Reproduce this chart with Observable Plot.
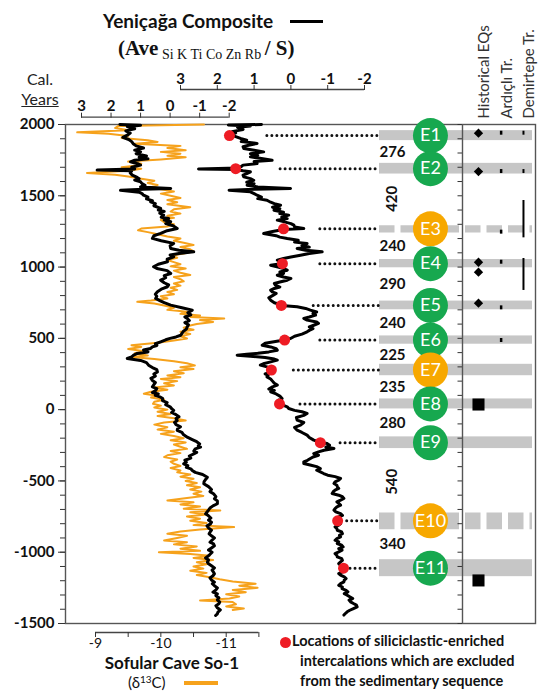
<!DOCTYPE html>
<html>
<head>
<meta charset="utf-8">
<script src="https://cdn.jsdelivr.net/npm/d3@7"></script>
<script src="https://cdn.jsdelivr.net/npm/@observablehq/plot@0.6"></script>
<style>
  html, body { margin: 0; padding: 0; background: #fff; }
  #chart { position: relative; width: 541px; height: 700px; overflow: hidden; font-family: Lato, "Open Sans", sans-serif; color: #111; }
  #chart > svg, #chart > figure { position: absolute; left: 0; top: 0; margin: 0; }
  .lbl { position: absolute; white-space: nowrap; line-height: 1; }
</style>
</head>
<body>
<div id="chart">
  <div class="lbl" style="left:103px;top:11px;font-weight:bold;font-size:19px;">Yeniçağa Composite</div>
  <div class="lbl" style="left:290px;top:20px;width:33px;height:3px;background:#000;"></div>
  <div class="lbl" style="left:118px;top:38px;font-family:'Liberation Serif',serif;"><b style="font-size:21px;">(Ave</b><span style="font-size:14px;position:relative;top:4px;"> Si K Ti Co Zn Rb </span><b style="font-size:21px;">/ S)</b></div>
  <div class="lbl" style="left:20px;top:71px;width:40px;text-align:center;font-size:16px;color:#222;">Cal.</div>
  <div class="lbl" style="left:20px;top:91px;width:40px;text-align:center;font-size:16px;color:#222;text-decoration:underline;">Years</div>
  <div class="lbl" style="left:72px;top:654px;width:200px;text-align:center;font-weight:bold;font-size:17px;">Sofular Cave So-1</div>
  <div class="lbl" style="left:128px;top:675px;font-size:15px;">(δ<span style="font-size:10px;position:relative;top:-5px;">13</span>C)</div>
  <div class="lbl" style="left:184px;top:681px;width:34px;height:3.5px;background:#f6a21c;"></div>
  <div class="lbl" style="left:279.5px;top:636.5px;width:11px;height:11px;border-radius:50%;background:#ee1c24;"></div>
  <div class="lbl" style="left:292px;top:634px;font-weight:bold;font-size:14.5px;">Locations of siliciclastic-enriched</div>
  <div class="lbl" style="left:300px;top:654px;font-weight:bold;font-size:14.5px;">intercalations which are excluded</div>
  <div class="lbl" style="left:300px;top:674px;font-weight:bold;font-size:14.5px;">from the sedimentary sequence</div>
</div>
<script>
// ---------------- DATA ----------------
// Sofular Cave So-1 δ13C (‰), by calendar year
const sofularYears = [2000,1990,1975,1960,1945,1935,1920,1905,1890,1878,1865,1850,1835,1820,1808,1795,1780,1770,1755,1740,1725,1710,1700,1690,1675,1660,1648,1635,1620,1605,1590,1575,1560,1545,1530,1515,1500,1485,1470,1455,1440,1420,1405,1390,1375,1360,1345,1330,1315,1300,1285,1270,1258,1245,1230,1215,1200,1185,1170,1155,1140,1125,1110,1095,1080,1065,1050,1035,1020,1005,990,975,960,945,930,915,900,885,870,855,840,825,810,795,780,765,756,745,730,715,700,686,672,660,650,639,628,615,600,590,575,560,546,530,515,499,485,470,452,440,425,410,395,380,370,355,340,325,310,297,285,270,255,240,228,215,200,185,170,155,140,125,111,98,85,70,55,41,28,15,0,-15,-30,-45,-60,-76,-90,-105,-123,-140,-155,-170,-185,-200,-215,-230,-245,-260,-275,-290,-305,-320,-333,-350,-365,-380,-395,-410,-427,-440,-455,-470,-485,-500,-515,-530,-545,-560,-575,-590,-605,-620,-637,-650,-665,-680,-695,-707,-720,-735,-750,-765,-780,-795,-810,-824,-840,-855,-871,-885,-900,-918,-930,-945,-960,-975,-990,-1000,-1012,-1025,-1040,-1055,-1070,-1085,-1100,-1115,-1130,-1145,-1160,-1175,-1190,-1205,-1222,-1235,-1250,-1265,-1280,-1295,-1310,-1325,-1338,-1350,-1365,-1380,-1395,-1405];
const sofularD13C = [-10.66,-9.35,-9.3,-9.5,-8.72,-9.2,-9.5,-9.4,-9.8,-9.95,-9.6,-10.3,-10.1,-10.38,-10.0,-10.3,-10.1,-10.38,-10.0,-9.5,-9.7,-9.6,-9.4,-9.7,-9.5,-8.87,-9.3,-9.5,-9.7,-9.9,-9.8,-9.95,-9.85,-10.0,-10.2,-10.0,-10.15,-10.3,-10.1,-10.25,-10.1,-10.45,-10.2,-10.15,-10.3,-10.1,-10.2,-10.0,-10.05,-10.2,-10.1,-9.7,-9.65,-9.8,-9.95,-10.1,-10.3,-10.2,-10.35,-10.5,-10.3,-10.45,-10.5,-10.35,-10.15,-10.25,-10.1,-10.2,-10.3,-10.15,-10.38,-10.2,-10.3,-10.45,-10.2,-10.3,-10.35,-10.2,-10.3,-10.15,-10.25,-10.1,-10.2,-10.0,-10.1,-9.85,-9.64,-9.9,-10.05,-10.2,-10.1,-10.4,-10.3,-10.6,-10.45,-10.97,-10.6,-10.8,-10.55,-10.45,-10.35,-10.5,-10.3,-10.45,-10.3,-10.4,-10.2,-9.95,-9.55,-9.7,-9.5,-9.75,-9.6,-9.8,-9.55,-9.9,-10.2,-10.4,-10.52,-10.3,-10.5,-10.2,-10.35,-10.1,-10.3,-10.0,-10.25,-10.05,-10.2,-9.9,-10.1,-9.85,-9.74,-9.95,-9.85,-10.05,-9.9,-9.88,-10.0,-9.9,-10.1,-9.95,-10.15,-9.95,-10.2,-10.38,-10.05,-9.9,-10.1,-9.95,-10.2,-10.0,-10.2,-10.35,-10.15,-10.38,-10.2,-10.3,-10.4,-10.15,-10.3,-10.1,-10.05,-10.25,-10.15,-10.2,-10.3,-10.15,-10.3,-10.25,-10.45,-10.3,-10.5,-10.38,-10.55,-10.4,-10.6,-10.45,-10.62,-10.5,-10.65,-10.4,-10.1,-10.5,-10.3,-10.6,-10.35,-10.91,-10.45,-10.7,-10.4,-10.6,-10.45,-10.7,-10.5,-11.12,-10.6,-10.3,-10.1,-10.4,-10.25,-10.05,-10.4,-10.2,-10.55,-10.3,-10.6,-9.97,-10.45,-10.75,-10.5,-10.8,-10.55,-10.7,-10.5,-10.65,-10.45,-10.7,-10.55,-10.75,-10.9,-11.1,-11.45,-11.2,-11.48,-11.1,-11.3,-11.0,-11.2,-11.05,-10.6,-11.1,-11.15,-11.0,-11.27,-11.1];

// Yeniçağa composite, left trace (lower top axis)
const leftCompositeYears = [2000,1995,1985,1970,1955,1940,1925,1910,1895,1880,1865,1850,1835,1820,1808,1795,1780,1770,1760,1750,1738,1725,1715,1700,1688,1680,1675,1660,1645,1633,1620,1610,1598,1585,1574,1562,1551,1545,1538,1525,1515,1504,1490,1478,1465,1458,1445,1430,1411,1400,1390,1378,1364,1350,1340,1330,1318,1305,1290,1271,1255,1236,1220,1201,1185,1166,1150,1130,1118,1107,1095,1085,1072,1055,1037,1020,1002,990,975,955,940,925,908,890,875,862,845,827,810,795,780,765,750,733,715,698,680,665,650,639,625,610,595,581,565,550,535,522,510,500,490,476,462,450,440,429,418,405,394,380,370,359,345,330,312,295,280,265,250,235,220,204,190,175,160,148,134,120,110,100,90,78,64,50,35,20,5,-6,-20,-35,-50,-62,-76,-90,-105,-120,-135,-146,-160,-175,-193,-210,-225,-240,-255,-263,-275,-290,-300,-310,-325,-340,-355,-368,-380,-392,-405,-415,-427,-440,-455,-474,-490,-505,-520,-540,-560,-575,-590,-610,-625,-640,-660,-675,-690,-705,-718,-731,-745,-760,-775,-790,-801,-815,-830,-845,-860,-871,-885,-900,-915,-930,-941,-955,-970,-985,-1000,-1011,-1025,-1040,-1055,-1070,-1081,-1095,-1110,-1125,-1140,-1151,-1165,-1180,-1195,-1210,-1221,-1235,-1250,-1265,-1280,-1292,-1305,-1320,-1335,-1350,-1362,-1375,-1390,-1405,-1420,-1432,-1444];
const leftCompositeValues = [1.7,1.0,1.45,1.2,1.5,1.35,1.45,1.6,1.4,1.3,1.25,1.15,0.9,1.2,1.0,1.15,0.8,1.05,0.75,1.2,1.34,1.1,1.0,1.3,1.2,2.47,1.3,1.35,1.28,1.15,1.05,1.2,1.0,0.95,0.85,1.0,-0.02,0.9,1.68,1.05,0.95,0.9,0.75,0.8,0.6,0.66,0.5,0.55,0.32,0.4,0.2,0.35,0.22,0.3,0.05,0.2,-0.02,0.15,-0.1,-0.24,0.1,0.32,0.55,0.6,0.3,-0.12,0.0,-0.02,-0.3,-0.8,-0.3,0.0,-0.12,0.1,0.09,0.4,0.56,0.45,0.1,-0.02,0.2,0.15,0.32,0.2,0.05,0.09,0.3,0.43,0.5,0.45,0.49,0.35,0.2,-0.02,-0.4,-0.75,-0.6,-0.7,-0.5,-0.58,-0.65,-0.5,-0.62,-0.58,-0.55,-0.45,-0.4,-0.36,-0.2,0.0,0.15,0.32,0.5,0.45,0.6,0.66,0.9,0.75,1.11,1.25,1.3,1.45,1.0,0.8,0.73,0.6,0.45,0.43,0.55,0.5,0.65,0.6,0.5,0.55,0.6,0.45,0.49,0.6,0.4,0.5,0.35,0.25,0.26,0.1,0.15,0.0,-0.06,-0.12,-0.05,-0.2,-0.3,-0.2,-0.24,-0.15,-0.2,-0.35,-0.25,-0.24,-0.4,-0.45,-0.58,-0.75,-0.9,-1.0,-0.95,-1.03,-0.85,-0.8,-0.9,-0.8,-0.65,-0.7,-0.5,-0.55,-0.46,-0.6,-0.55,-0.7,-0.75,-0.85,-1.1,-1.26,-1.2,-1.15,-1.14,-1.3,-1.4,-1.35,-1.47,-1.55,-1.5,-1.6,-1.6,-1.45,-1.35,-1.3,-1.25,-1.2,-1.3,-1.38,-1.3,-1.4,-1.37,-1.25,-1.3,-1.4,-1.35,-1.32,-1.4,-1.5,-1.42,-1.35,-1.47,-1.5,-1.4,-1.3,-1.42,-1.37,-1.3,-1.2,-1.3,-1.26,-1.3,-1.4,-1.5,-1.42,-1.47,-1.5,-1.45,-1.35,-1.4,-1.5,-1.43,-1.5,-1.6,-1.55,-1.45,-1.6,-1.55,-1.65,-1.6,-1.68,-1.65,-1.55,-1.6,-1.7,-1.62,-1.6,-1.54];

// Yeniçağa composite, right trace with events (upper top axis)
const rightCompositeYears = [2000,1996,1990,1980,1965,1950,1940,1930,1915,1902,1890,1880,1867,1855,1845,1832,1820,1808,1795,1785,1773,1762,1750,1740,1726,1715,1705,1695,1688,1684,1675,1668,1655,1645,1633,1620,1609,1595,1585,1574,1562,1551,1545,1539,1528,1515,1504,1490,1480,1469,1455,1445,1434,1420,1410,1399,1385,1375,1364,1350,1340,1329,1315,1305,1294,1282,1270,1264,1250,1235,1220,1210,1200,1188,1175,1165,1150,1140,1130,1118,1107,1095,1083,1070,1060,1048,1035,1025,1013,1000,990,978,965,955,943,930,920,908,895,885,873,860,850,838,826,815,800,785,768,750,738,730,721,710,698,685,675,663,650,640,628,615,605,592,580,568,556,546,530,515,499,492,483,476,465,452,440,428,417,405,395,388,382,375,365,355,347,335,322,312,300,290,282,270,260,250,240,230,215,200,185,172,160,145,135,125,110,95,78,65,50,43,30,20,8,-5,-15,-27,-40,-55,-74,-90,-109,-125,-144,-160,-179,-195,-214,-230,-238,-250,-262,-273,-285,-296,-308,-320,-332,-343,-355,-366,-378,-390,-400,-413,-425,-436,-448,-460,-470,-483,-495,-506,-518,-530,-541,-553,-565,-576,-588,-600,-611,-623,-635,-647,-658,-670,-682,-694,-705,-717,-730,-742,-753,-764,-776,-785,-799,-810,-822,-834,-846,-858,-870,-881,-892,-904,-916,-927,-939,-951,-963,-975,-986,-998,-1010,-1022,-1033,-1045,-1057,-1068,-1080,-1092,-1103,-1114,-1126,-1138,-1150,-1161,-1173,-1185,-1196,-1208,-1220,-1232,-1244,-1255,-1267,-1278,-1290,-1301,-1313,-1325,-1336,-1348,-1360,-1371,-1383,-1395,-1407,-1418,-1430,-1441];
const rightCompositeValues = [0.8,1.7,1.1,1.45,1.3,1.6,1.5,1.67,1.5,1.37,1.2,1.35,0.92,1.15,1.3,1.28,1.0,0.74,1.1,0.9,1.1,0.8,0.51,1.0,0.92,1.3,1.35,1.45,2.51,1.5,1.3,1.1,1.2,1.3,1.28,1.1,1.01,1.2,1.0,1.19,0.9,0.01,1.0,1.68,1.1,1.0,0.92,0.8,0.9,0.65,0.55,0.45,0.28,0.5,0.3,0.46,0.2,0.3,0.06,0.25,0.1,0.37,0.15,0.0,-0.08,-0.1,-0.35,0.2,0.5,0.74,0.4,0.3,0.1,-0.2,-0.1,-0.44,-0.3,-0.5,-0.17,-0.4,-0.85,-0.5,-0.26,0.0,0.2,0.37,0.25,0.23,0.55,0.35,0.2,0.1,0.3,0.2,0.37,0.2,0.0,0.1,0.3,0.45,0.42,0.3,0.45,0.55,0.51,0.4,0.5,0.6,0.55,0.45,0.3,0.26,-0.17,-0.4,-0.53,-0.7,-0.6,-0.67,-0.5,-0.35,-0.44,-0.7,-0.75,-0.62,-0.5,-0.6,-0.5,-0.44,-0.3,-0.1,0.01,0.17,0.3,0.46,0.7,0.78,0.55,0.4,0.37,0.6,0.9,1.2,1.46,1.1,0.7,0.45,0.37,0.55,0.75,0.83,0.65,0.55,0.53,0.5,0.6,0.7,0.62,0.65,0.55,0.5,0.45,0.37,0.5,0.6,0.45,0.55,0.4,0.3,0.24,0.35,0.31,0.28,0.2,0.1,0.06,-0.1,-0.3,-0.44,-0.35,-0.15,-0.17,-0.35,-0.26,-0.1,-0.17,-0.3,-0.44,-0.5,-0.62,-0.8,-0.99,-1.05,-0.95,-1.17,-0.9,-0.75,-0.62,-0.75,-0.6,-0.53,-0.45,-0.35,-0.35,-0.55,-0.7,-0.8,-0.7,-0.8,-0.89,-1.0,-1.2,-1.35,-1.3,-1.2,-1.17,-1.25,-1.26,-1.3,-1.2,-1.15,-1.12,-1.3,-1.4,-1.44,-1.35,-1.25,-1.3,-1.35,-1.25,-1.2,-1.17,-1.22,-1.35,-1.4,-1.3,-1.26,-1.35,-1.27,-1.35,-1.3,-1.2,-1.25,-1.26,-1.38,-1.4,-1.32,-1.35,-1.25,-1.2,-1.3,-1.26,-1.38,-1.42,-1.3,-1.39,-1.3,-1.2,-1.25,-1.26,-1.38,-1.4,-1.35,-1.3,-1.35,-1.4,-1.43,-1.5,-1.4,-1.3,-1.35,-1.45,-1.5,-1.45,-1.44,-1.35,-1.3,-1.4,-1.39,-1.5,-1.55,-1.45,-1.53,-1.6,-1.68,-1.58,-1.62,-1.7,-1.78,-1.8,-1.7,-1.6,-1.53,-1.48,-1.44];

// Paleoseismic events
const eventIds = ["E1","E2","E3","E4","E5","E6","E7","E8","E9","E10","E11"];
const eventYears = [1922, 1690, 1268, 1024, 731, 488, 278, 40, -232, -780, -1112];
const eventSpans = [70, 75, 52, 58, 61, 58, 80, 70, 82, 117, 119];
const eventStatus = ["confirmed","confirmed","possible","confirmed","confirmed","confirmed","possible","confirmed","confirmed","possible","confirmed"];
const eventDashed = [false,false,true,false,false,false,false,false,false,true,false];
const eventMarkerValues = [1.67, 1.5, 0.2, 0.23, 0.26, 0.17, 0.53, 0.31, -0.8, -1.27, -1.43];
const eventLeaderStart = [0.64, 0.28, -0.8, -0.8, -0.62, -0.8, -0.08, -0.26, -1.35, -1.53, -1.62];
const recurrenceIntervals = [276, 420, 240, 290, 240, 225, 235, 280, 540, 340];

// Historical earthquakes and trench records
const historicalEQYears = [1939, 1670, 1034, 964, 747];
const historicalBoxYears = [36, -1198];
const ardicliYears = [1939, 1670, 1245, 1034, 714, 485];
const demirtepeFrom = [1953, 1684, 1467, 1060];
const demirtepeTo = [1925, 1656, 1205, 836];

// Axis ticks / labels
const yearLabels = [2000, 1500, 1000, 500, 0, -500, -1000, -1500];
const compositeTicks = [3, 2, 1, 0, -1, -2];
const d13cTicks = [-9, -9.5, -10, -10.5, -11, -11.5];
const panelColumns = ["Historical EQs", "Ardıçlı Tr.", "Demirtepe Tr."];

// ---------------- LAYOUT ----------------
const W = 541, H = 700;
const FONT = "Lato, 'Open Sans', sans-serif";
const ORANGE = "#f6a21c", GREEN = "#17a84f", EORANGE = "#f7a800", GRAY = "#c6c6c6", RED = "#ee1c24";
const Y_SCALE = {domain: [2000, -1500], range: [124, 623], axis: null};
const PX_PER_YEAR = (623 - 124) / 3500;
const COL = {event: 0.333, interval: 0.085, eq: 0.647, a: 0.795, d: 0.941};
const PANEL_LEFT = 379;
const STYLE = {background: "transparent", overflow: "visible", fontFamily: FONT, color: "#333"};

const table = (years, values) => years.map((year, i) => ({year, value: values[i]}));
const sofular = table(sofularYears, sofularD13C);
const leftComposite = table(leftCompositeYears, leftCompositeValues);
const rightComposite = table(rightCompositeYears, rightCompositeValues);
const events = eventIds.map((id, i) => ({id, year: eventYears[i], span: eventSpans[i], status: eventStatus[i], dashed: eventDashed[i], marker: eventMarkerValues[i], leader: eventLeaderStart[i]}));
const intervals = recurrenceIntervals.map((v, i) => ({value: v, year: (eventYears[i] + eventYears[i + 1]) / 2}));
const demirtepe = demirtepeFrom.map((f, i) => ({from: f, to: demirtepeTo[i]}));

const chart = document.getElementById("chart");
const base = {width: W, height: H, marginTop: 124, marginBottom: 77, style: STYLE};

// Layer 1: frame, year axis, Sofular δ13C
chart.appendChild(Plot.plot({
  ...base, marginLeft: 65, marginRight: 6,
  x: {domain: [-9, -11], range: [95, 225.7], axis: null, label: null},
  y: Y_SCALE,
  marks: [
    Plot.frame({stroke: "#555", strokeWidth: 1.4}),
    Plot.axisY({anchor: "left", ticks: d3.range(-1500, 2001, 100), tickSize: 5, tickFormat: () => "", label: null}),
    Plot.axisY({anchor: "left", ticks: yearLabels, tickSize: 7, tickPadding: 4, tickFormat: d => String(d), fontSize: 15, fontWeight: "bold", fill: "#111", label: null}),
    Plot.line(sofular, {x: "value", y: "year", stroke: ORANGE, strokeWidth: 2}),
    Plot.ruleY([-1500], {x1: -9, x2: -11.5, dy: 9, stroke: "#444", strokeWidth: 1.3}),
    Plot.axisX({anchor: "bottom", ticks: d13cTicks, tickSize: 5, dy: 9, tickPadding: 1, tickFormat: d => Number.isInteger(d) ? String(d) : "", fontSize: 14, fill: "#111", label: null})
  ]
}));

// Layer 2: left composite
chart.appendChild(Plot.plot({
  ...base, marginLeft: 65, marginRight: 6,
  x: {domain: [3, -2], range: [81, 228.7], axis: null, label: null},
  y: Y_SCALE,
  marks: [
    Plot.line(leftComposite, {x: "value", y: "year", stroke: "#000", strokeWidth: 3, strokeLinejoin: "round"}),
    Plot.ruleY([2000], {x1: 3, x2: -2, dy: -7.3, stroke: "#444", strokeWidth: 1.3}),
    Plot.axisX({anchor: "top", ticks: compositeTicks, tickSize: 5, dy: -7.3, tickPadding: 1, tickFormat: d => String(d), fontSize: 15, fontWeight: "bold", fill: "#111", label: null})
  ]
}));

// Layer 3: event panel
chart.appendChild(Plot.plot({
  ...base, marginLeft: PANEL_LEFT, marginRight: 9,
  x: {domain: [0, 1], range: [PANEL_LEFT, 532], axis: null},
  y: Y_SCALE,
  color: {domain: ["confirmed", "possible"], range: [GREEN, EORANGE]},
  marks: [
    Plot.rect(events.filter(d => !d.dashed), {x1: 0, x2: 1, y1: d => d.year + d.span / 2, y2: d => d.year - d.span / 2, fill: GRAY}),
    Plot.ruleY(events.filter(d => d.dashed), {y: "year", stroke: GRAY, strokeWidth: d => d.span * PX_PER_YEAR, strokeDasharray: "15.5 6"}),
    Plot.dot(events, {x: () => COL.event, y: "year", r: 17.5, fill: "status"}),
    Plot.text(events, {x: () => COL.event, y: "year", text: "id", fill: "white", fontSize: 18}),
    Plot.text(intervals, {x: () => COL.interval, y: "year", text: d => String(d.value), rotate: d => d.value > 400 ? -90 : 0, fontSize: 15, fontWeight: "bold", fill: "#111"}),
    Plot.dot(historicalEQYears, {x: () => COL.eq, y: d => d, symbol: "diamond2", r: 4.2, fill: "#000"}),
    Plot.dot(historicalBoxYears, {x: () => COL.eq, y: d => d, symbol: "square", r: 6.8, fill: "#000"}),
    Plot.ruleX(ardicliYears, {x: () => COL.a, y1: d => d + 14, y2: d => d - 14, stroke: "#000", strokeWidth: 2.5}),
    Plot.ruleX(demirtepe, {x: () => COL.d, y1: "from", y2: "to", stroke: "#000", strokeWidth: 2}),
    Plot.text(panelColumns, {x: (d, i) => [COL.eq, COL.a, COL.d][i], frameAnchor: "top", dy: -6, rotate: -90, textAnchor: "start", fontSize: 15, fill: "#333", text: d => d})
  ]
}));

// Layer 4: divider with year ticks
chart.appendChild(Plot.plot({
  ...base, marginLeft: 462, marginRight: 6,
  x: {domain: [0, 1], range: [462, 535], axis: null},
  y: Y_SCALE,
  marks: [
    Plot.axisY({anchor: "left", ticks: d3.range(-1500, 2001, 100), tickSize: 4.5, tickFormat: () => "", label: null}),
    Plot.ruleX([0], {stroke: "#555", strokeWidth: 1.4})
  ]
}));

// Layer 5: right composite with events
chart.appendChild(Plot.plot({
  ...base, marginLeft: 65, marginRight: 6,
  x: {domain: [3, -2], range: [180, 364], axis: null, label: null},
  y: Y_SCALE,
  marks: [
    Plot.line(rightComposite, {x: "value", y: "year", stroke: "#000", strokeWidth: 3, strokeLinejoin: "round"}),
    Plot.ruleY(events, {y: "year", x1: "leader", x2: () => 3 - (PANEL_LEFT - 180) / 36.8, stroke: "#111", strokeWidth: 3, strokeDasharray: "0 5", strokeLinecap: "round"}),
    Plot.dot(events, {x: "marker", y: "year", r: 5.5, fill: RED}),
    Plot.ruleY([2000], {x1: 3, x2: -2, dy: -35, stroke: "#444", strokeWidth: 1.3}),
    Plot.axisX({anchor: "top", ticks: compositeTicks, tickSize: 5, dy: -35, tickPadding: 1, tickFormat: d => String(d), fontSize: 15, fontWeight: "bold", fill: "#111", label: null})
  ]
}));
</script>
</body>
</html>
